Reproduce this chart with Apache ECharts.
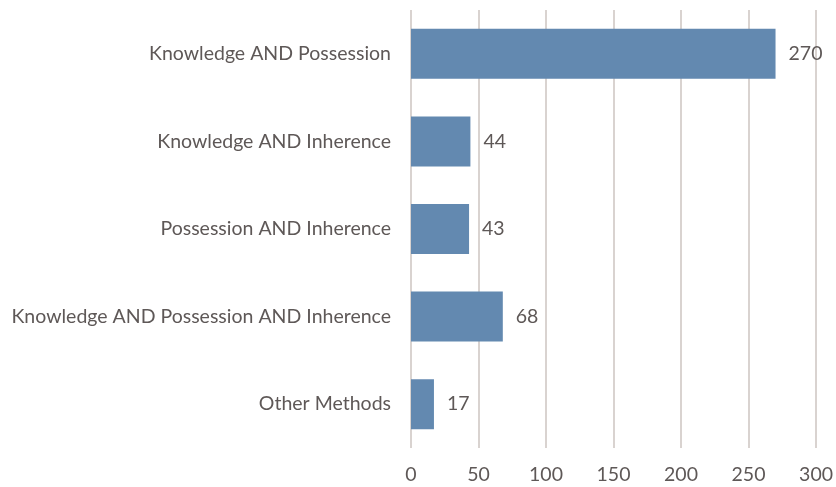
<!DOCTYPE html>
<html><head><meta charset="utf-8">
<script src="https://cdn.jsdelivr.net/npm/echarts@6/dist/echarts.min.js"></script>
<style>html,body{margin:0;padding:0;background:#fff}#c{width:836px;height:487px}</style>
</head><body><div id="c"></div>
<script>
const categories = ["Knowledge AND Possession","Knowledge AND Inherence","Possession AND Inherence","Knowledge AND Possession AND Inherence","Other Methods"];
const values = [270,44,43,68,17];
const tickValues = [0,50,100,150,200,250,300];
const chart = echarts.init(document.getElementById('c'));
const font = 'Lato';
const txt = '#5e5857';
chart.setOption({
  animation:false,
  grid:{left:411,right:18,top:10,bottom:39,containLabel:false},
  xAxis:{type:'value',min:0,max:300,interval:50,
    axisLine:{show:false},axisTick:{show:false},
    splitLine:{lineStyle:{color:'#d9d3d0',width:2}},
    axisLabel:{color:txt,fontFamily:font,fontSize:19.5,margin:17}},
  yAxis:{type:'category',data:categories,inverse:true,
    axisLine:{show:false},axisTick:{show:false},
    axisLabel:{color:txt,fontFamily:font,fontSize:19.5,margin:20}},
  series:[{type:'bar',data:values,barWidth:50,
    itemStyle:{color:'#6389b0'},
    label:{show:true,position:'right',distance:13,color:txt,fontFamily:font,fontSize:19.5}}]
});
</script></body></html>
